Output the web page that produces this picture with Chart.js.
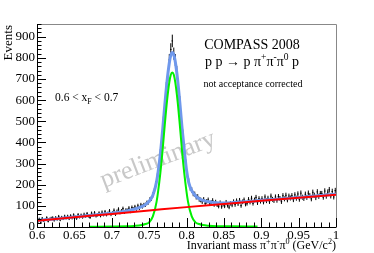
<!DOCTYPE html>
<html>
<head>
<meta charset="utf-8">
<script src="https://cdn.jsdelivr.net/npm/chart.js@4"></script>
<style>
  body { margin: 0; background: #fff; }
  #wrap { width: 374px; height: 253px; }
</style>
</head>
<body>
<div id="wrap"><canvas id="chart" width="374" height="253"></canvas></div>
<script>
// histogram: 2 MeV bins from 0.6 to 1.0 GeV/c^2
const histLow = 0.6;
const binWidth = 0.002;
const counts = [
  24, 38, 22, 41, 29, 35, 44, 27, 38, 42,
  44, 31, 45, 36, 50, 33, 46, 39, 51, 42,
  51, 39, 53, 42, 57, 48, 40, 58, 47, 56,
  46, 60, 51, 63, 52, 45, 65, 55, 67, 52,
  57, 66, 53, 70, 58, 72, 58, 65, 76, 59,
  66, 79, 60, 74, 84, 68, 76, 87, 70, 80,
  78, 89, 74, 92, 84, 95, 86, 100, 90, 104,
  97, 104, 105, 114, 117, 129, 135, 152, 170, 203,
  238, 280, 350, 410, 500, 570, 660, 715, 790, 840,
  880, 820, 790, 735, 660, 595, 505, 440, 360, 302,
  250, 215, 185, 175, 158, 155, 142, 143, 131, 128,
  120, 130, 112, 121, 128, 110, 116, 125, 106, 118,
  105, 98, 115, 96, 108, 99, 117, 102, 94, 112,
  104, 120, 106, 124, 110, 126, 101, 119, 128, 108,
  112, 130, 118, 136, 112, 128, 140, 115, 134, 122,
  134, 118, 142, 124, 136, 120, 146, 131, 125, 142,
  126, 144, 135, 120, 148, 133, 150, 128, 146, 137,
  148, 129, 152, 136, 156, 131, 160, 141, 135, 155,
  140, 160, 148, 133, 164, 150, 139, 166, 145, 158,
  158, 141, 170, 146, 165, 176, 147, 168, 142, 172
];

// background fit (red)
const bgMass = [0.6, 0.65, 0.7, 0.75, 0.8, 0.85, 0.9, 0.95, 1.0];
const bgFit  = [30, 46, 62, 78, 94, 109, 124, 138, 152];

// omega signal (green)
const sigMass = [0.67, 0.70, 0.72, 0.73, 0.74, 0.745, 0.75, 0.755, 0.76, 0.765, 0.768, 0.771, 0.774, 0.777, 0.779,
  0.781, 0.783, 0.785, 0.788, 0.791, 0.794, 0.797, 0.802, 0.807, 0.812, 0.817, 0.822, 0.83, 0.84, 0.86, 0.895];
const sigFit  = [1, 2, 3, 5, 9, 14, 22, 50, 120, 255, 362, 485, 598, 684, 720,
  731, 720, 684, 598, 485, 362, 255, 120, 50, 22, 14, 9, 6, 4, 3, 2];

// total fit (blue)
const totMass = [0.6, 0.62, 0.65, 0.67, 0.69, 0.70, 0.71, 0.72, 0.73, 0.74, 0.745, 0.75, 0.755, 0.76, 0.765, 0.768,
  0.771, 0.774, 0.777, 0.779, 0.781, 0.783, 0.785, 0.788, 0.791, 0.794, 0.797, 0.80, 0.803, 0.807, 0.812,
  0.817, 0.822, 0.83, 0.84, 0.85, 0.86, 0.88, 0.90, 0.95, 1.0];
const totFit  = [31, 37, 47, 54, 61, 65, 70, 76, 84, 96, 106, 122, 150, 215, 345, 455,
  578, 690, 776, 813, 825, 815, 782, 700, 590, 470, 365, 270, 210, 172, 148,
  134, 126, 119, 115, 114, 115, 120, 126, 140, 155];

const xTicks = [0.6, 0.65, 0.7, 0.75, 0.8, 0.85, 0.9, 0.95, 1.0];
const yTicks = [0, 100, 200, 300, 400, 500, 600, 700, 800, 900];

const serif = '"Liberation Serif", "DejaVu Serif", serif';
const pts = (xs, ys) => xs.map((x, i) => ({ x: x, y: ys[i] }));
const histPts = counts.map((c, i) => ({ x: histLow + binWidth * (i + 0.5), y: c }));

function richText(ctx, x, y, parts, size, align) {
  const widths = parts.map(([t, s]) => {
    ctx.font = (s ? size * 0.68 : size) + 'px ' + serif;
    return ctx.measureText(t).width;
  });
  const total = widths.reduce((a, b) => a + b, 0);
  let cx = align === 'right' ? x - total : align === 'center' ? x - total / 2 : x;
  ctx.textAlign = 'left';
  ctx.textBaseline = 'alphabetic';
  parts.forEach(([t, s], i) => {
    ctx.font = (s ? size * 0.68 : size) + 'px ' + serif;
    const dy = s > 0 ? -size * 0.42 : s < 0 ? size * 0.25 : 0;
    ctx.fillText(t, cx, y + dy);
    cx += widths[i];
  });
}

const rootStyle = {
  id: 'rootStyle',
  beforeDatasetsDraw(chart) {
    const { ctx, chartArea: a, scales: { x, y } } = chart;
    ctx.save();
    // watermark
    ctx.translate(158, 160);
    ctx.rotate(-21 * Math.PI / 180);
    ctx.font = '26px ' + serif;
    ctx.fillStyle = '#c8c8c8';
    ctx.textAlign = 'center';
    ctx.textBaseline = 'middle';
    ctx.fillText('preliminary', 0, 0);
    ctx.restore();

    // histogram with error bars
    ctx.save();
    ctx.beginPath();
    ctx.rect(a.left, a.top, a.right - a.left, a.bottom - a.top);
    ctx.clip();
    ctx.strokeStyle = '#000';
    ctx.lineWidth = 1;
    ctx.beginPath();
    histPts.forEach(p => {
      const px = x.getPixelForValue(p.x);
      const err = Math.sqrt(p.y);
      ctx.moveTo(px, y.getPixelForValue(p.y + err));
      ctx.lineTo(px, y.getPixelForValue(p.y - err));
      ctx.moveTo(x.getPixelForValue(p.x - binWidth / 2), y.getPixelForValue(p.y));
      ctx.lineTo(x.getPixelForValue(p.x + binWidth / 2), y.getPixelForValue(p.y));
    });
    ctx.stroke();
    ctx.restore();
  },
  afterDraw(chart) {
    const { ctx, chartArea: a, scales: { x, y } } = chart;
    ctx.save();
    // frame
    ctx.lineWidth = 1;
    ctx.strokeStyle = '#888';
    ctx.beginPath();
    ctx.moveTo(a.left, a.top + 0.5);
    ctx.lineTo(a.right + 0.5, a.top + 0.5);
    ctx.lineTo(a.right + 0.5, a.bottom);
    ctx.stroke();
    ctx.strokeStyle = '#000';
    ctx.beginPath();
    ctx.moveTo(a.left + 0.5, a.top);
    ctx.lineTo(a.left + 0.5, a.bottom + 0.5);
    ctx.lineTo(a.right + 0.5, a.bottom + 0.5);
    ctx.stroke();

    // inward ticks
    ctx.beginPath();
    for (let v = 0; v <= 960; v += 20) {
      const py = Math.round(y.getPixelForValue(v)) + 0.5;
      const len = v % 100 === 0 ? 9 : 4.5;
      ctx.moveTo(a.left, py);
      ctx.lineTo(a.left + len, py);
    }
    for (let i = 0; i <= 40; i++) {
      const px = Math.round(x.getPixelForValue(0.6 + i * 0.01)) + 0.5;
      const len = i % 5 === 0 ? 9 : 4.5;
      ctx.moveTo(px, a.bottom);
      ctx.lineTo(px, a.bottom - len);
    }
    ctx.stroke();

    ctx.fillStyle = '#000';
    // axis titles
    richText(ctx, 336, 249, [['Invariant mass \u03c0', 0], ['+', 1], ['\u03c0', 0], ['-', 1], ['\u03c0', 0], ['0', 1], [' (GeV/c', 0], ['2', 1], [')', 0]], 12, 'right');
    ctx.save();
    ctx.translate(12, 25);
    ctx.rotate(-Math.PI / 2);
    ctx.font = '13px ' + serif;
    ctx.textAlign = 'right';
    ctx.textBaseline = 'alphabetic';
    ctx.fillText('Events', 0, 0);
    ctx.restore();

    // labels
    richText(ctx, 252, 49, [['COMPASS 2008', 0]], 14, 'center');
    richText(ctx, 252, 66, [['p p \u2192 p \u03c0', 0], ['+', 1], ['\u03c0', 0], ['-', 1], ['\u03c0', 0], ['0', 1], [' p', 0]], 14, 'center');
    richText(ctx, 253, 87, [['not acceptance corrected', 0]], 10, 'center');
    richText(ctx, 55, 101, [['0.6 < x', 0], ['F', -1], [' < 0.7', 0]], 11.5, 'left');
    ctx.restore();
  }
};

const ctx = document.getElementById('chart');
const chart = new Chart(ctx, {
  type: 'line',
  data: {
    datasets: [
      { label: 'data', data: histPts, showLine: false, pointRadius: 0, order: 4 },
      { label: 'total', data: pts(totMass, totFit), borderColor: '#6f98ec', borderWidth: 3,
        pointRadius: 0, cubicInterpolationMode: 'monotone', order: 3 },
      { label: 'signal', data: pts(sigMass, sigFit), borderColor: '#00f000', borderWidth: 2,
        pointRadius: 0, cubicInterpolationMode: 'monotone', order: 2 },
      { label: 'background', data: pts(bgMass, bgFit), borderColor: '#ff0000', borderWidth: 2,
        pointRadius: 0, cubicInterpolationMode: 'monotone', order: 1 }
    ]
  },
  options: {
    responsive: false,
    animation: false,
    devicePixelRatio: 1,
    layout: { padding: { left: 0, right: 38, top: 24, bottom: 0 } },
    plugins: { legend: { display: false }, tooltip: { enabled: false } },
    scales: {
      x: {
        type: 'linear', min: 0.6, max: 1.0,
        grid: { display: false, drawTicks: false }, border: { display: false },
        afterBuildTicks: s => { s.ticks = xTicks.map(v => ({ value: v })); },
        afterFit: s => { s.height = 26; },
        ticks: {
          padding: 1, color: '#000', maxRotation: 0, autoSkip: false,
          font: { family: serif, size: 13 },
          callback: v => String(parseFloat(v.toFixed(2)))
        }
      },
      y: {
        type: 'linear', min: 0, max: 960,
        grid: { display: false, drawTicks: false }, border: { display: false },
        afterBuildTicks: s => { s.ticks = yTicks.map(v => ({ value: v })); },
        afterFit: s => { s.width = 37; },
        ticks: { padding: 2, color: '#000', font: { family: serif, size: 13 } }
      }
    }
  },
  plugins: [rootStyle]
});
</script>
</body>
</html>
